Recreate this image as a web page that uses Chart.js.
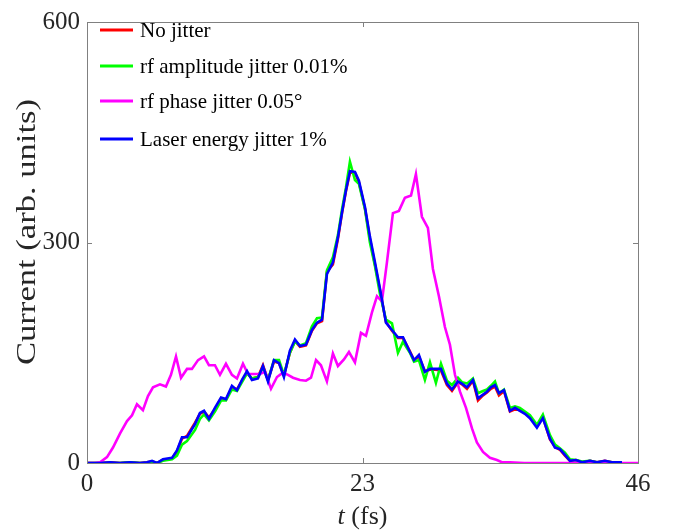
<!DOCTYPE html>
<html lang="en">
  <head>
    <meta charset="UTF-8" />
    <title>Current profile jitter</title>
    <script src="https://cdn.jsdelivr.net/npm/chart.js@4.4.1/dist/chart.umd.min.js"></script>
    <style>
      body { margin: 0; background: #fff; }
    </style>
  </head>
  <body>
    <canvas id="chart" width="676" height="531"></canvas>
    <script>
      // time axis (fs) shared by the no-jitter / amplitude / laser runs
      const timeMain = [
        0, 1.09, 1.92, 2.75, 3.59, 4.42, 5.0, 5.43, 5.84, 6.34,
        7.1, 7.51, 7.93, 8.35, 9.02, 9.43, 9.77, 10.18, 10.68, 11.19,
        11.6, 12.1, 12.52, 12.94, 13.36, 13.77, 14.27, 14.69, 15.11, 15.61,
        16.03, 16.44, 16.94, 17.36, 17.78, 18.28, 18.78, 19.2, 19.62, 20.03,
        20.53, 20.95, 21.29, 21.62, 21.95, 22.37, 22.7, 23.21, 23.62, 24.04,
        24.46, 24.96, 25.46, 25.96, 26.38, 26.96, 27.3, 27.71, 28.21, 28.63,
        29.13, 29.55, 30.05, 30.47, 30.97, 31.3, 31.72, 32.22, 32.64, 33.06,
        33.39, 33.72, 34.06, 34.39, 34.81, 35.31, 35.73, 36.14, 36.56, 36.98,
        37.56, 38.06, 38.65, 39.07, 39.48, 39.9, 40.32, 40.82, 41.32, 41.99,
        42.57, 43.24, 43.82, 44.66
      ];
      const noJitter = [
        0, 0, 1, 0, 1, 0, 1, 2, 0, 4,
        6, 16, 33, 37, 55, 67, 70, 62, 73, 88,
        86, 103, 100, 112, 123, 115, 117, 133, 113, 138,
        136, 119, 150, 166, 158, 160, 180, 190, 193, 260,
        270, 305, 340, 370, 395, 395, 382, 346, 305, 270,
        235, 192, 180, 170, 170, 152, 140, 145, 125, 127,
        127, 126, 106, 98, 110, 107, 101, 112, 85, 92,
        96, 101, 104, 92, 98, 70, 73, 72, 68, 62,
        50, 62, 32, 22, 18, 10, 3, 4, 1, 3,
        1, 3, 1, 1
      ];
      const ampJitter = [
        0, 0, 0, 0, 1, 0, 0, 2, 0, 3,
        5, 10, 25, 30, 45, 60, 66, 58, 70, 85,
        85, 100, 98, 110, 122, 115, 117, 130, 113, 140,
        140, 120, 150, 165, 160, 163, 186, 197, 198, 262,
        280, 310, 345, 375, 410, 385, 380, 345, 300, 268,
        230, 195, 190, 150, 165, 150, 138, 140, 113, 137,
        109, 135, 112, 106, 116, 110, 108, 115, 95, 98,
        100, 105, 111, 95, 100, 75, 77, 75, 70, 65,
        52, 66, 38, 25, 20, 14, 5, 4, 2, 3,
        1, 2, 1, 1
      ];
      const laserJitter = [
        0, 0, 1, 0, 1, 0, 1, 3, 0, 5,
        7, 17, 35, 35, 53, 68, 71, 60, 75, 89,
        87, 105, 99, 113, 125, 113, 115, 132, 111, 140,
        136, 117, 153, 168, 159, 161, 181, 191, 195, 257,
        273, 307, 341, 371, 397, 396, 384, 348, 308, 273,
        237, 191, 181, 171, 171, 151, 140, 147, 124, 128,
        128, 128, 108, 100, 111, 108, 103, 113, 88, 93,
        97, 103, 106, 95, 99, 71, 75, 71, 67, 61,
        48, 61, 33, 21, 19, 11, 3, 4, 1, 3,
        1, 3, 1, 1
      ];

      // rf phase run has its own sampling
      const timePhase = [
        0, 0.67, 1.09, 1.67, 2.17, 2.75, 3.34, 3.76, 4.17, 4.67,
        5.09, 5.51, 6.09, 6.59, 7.01, 7.43, 7.85, 8.35, 8.76, 9.27,
        9.77, 10.18, 10.68, 11.1, 11.6, 12.1, 12.52, 13.02, 13.44, 13.86,
        14.44, 14.86, 15.36, 15.86, 16.36, 16.78, 17.2, 17.78, 18.28, 18.7,
        19.12, 19.53, 20.03, 20.53, 20.95, 21.45, 21.87, 22.37, 22.87, 23.29,
        23.79, 24.21, 24.62, 25.04, 25.54, 26.04, 26.54, 27.05, 27.46, 27.96,
        28.46, 28.88, 29.38, 29.88, 30.3, 30.72, 31.14, 31.64, 32.14, 32.55,
        33.06, 33.64, 34.22, 34.64, 35.31, 36.5, 38, 40, 42, 44, 46
      ];
      const phaseJitter = [
        0, 0, 1, 8, 21, 40, 57, 65, 80, 72,
        91, 103, 107, 104, 120, 145, 116, 128, 128, 140,
        145, 133, 133, 120, 135, 120, 115, 135, 121, 121,
        121, 124, 101, 117, 123, 120, 116, 113, 112, 116,
        140, 133, 111, 149, 132, 141, 151, 137, 177, 173,
        205, 227, 220, 273, 340, 343, 361, 364, 393, 335,
        320, 264, 227, 185, 161, 120, 97, 75, 47, 28,
        15, 7, 4, 1, 1, 0, 0, 0, 0, 0, 0
      ];

      const xTicks = [0, 23, 46];
      const yTicks = [0, 300, 600];
      const seriesLabels = [
        "No jitter",
        "rf amplitude jitter 0.01%",
        "rf phase jitter 0.05°",
        "Laser energy jitter 1%",
      ];
      const seriesColors = ["#ff0000", "#00ff00", "#ff00ff", "#0000ff"];

      const serif = "'Liberation Serif', 'DejaVu Serif', serif";
      const frameColor = "#808080";
      const textColor = "#262626";

      function pts(xs, ys) {
        return xs.map((x, i) => ({ x: x, y: ys[i] }));
      }

      // frame box + inward ticks, MATLAB style, plus the axis titles
      const framePlugin = {
        id: "frame",
        afterDraw(chart) {
          const { ctx, chartArea: a, scales } = chart;
          ctx.save();
          ctx.strokeStyle = frameColor;
          ctx.lineWidth = 1;
          ctx.strokeRect(a.left + 0.5, a.top + 0.5, a.right - a.left, a.bottom - a.top);
          ctx.beginPath();
          const len = 5;
          xTicks.forEach((v) => {
            const px = Math.round(scales.x.getPixelForValue(v)) + 0.5;
            ctx.moveTo(px, a.bottom); ctx.lineTo(px, a.bottom - len);
            ctx.moveTo(px, a.top); ctx.lineTo(px, a.top + len);
          });
          yTicks.forEach((v) => {
            const py = Math.round(scales.y.getPixelForValue(v)) + 0.5;
            ctx.moveTo(a.left, py); ctx.lineTo(a.left + len, py);
            ctx.moveTo(a.right, py); ctx.lineTo(a.right - len, py);
          });
          ctx.stroke();

          ctx.fillStyle = textColor;

          // x axis title with italic t
          ctx.textBaseline = "alphabetic";
          const cx = (a.left + a.right) / 2;
          const y = 524;
          ctx.font = "italic 26px " + serif;
          const w1 = ctx.measureText("t").width;
          ctx.font = "26px " + serif;
          const rest = " (fs)";
          const w2 = ctx.measureText(rest).width;
          const x0 = cx - (w1 + w2) / 2;
          ctx.font = "italic 26px " + serif;
          ctx.textAlign = "left";
          ctx.fillText("t", x0, y);
          ctx.font = "26px " + serif;
          ctx.fillText(rest, x0 + w1, y);

          // y axis title, slightly widened like the original export
          const yt = "Current (arb. units)";
          ctx.font = "28px " + serif;
          const tw = ctx.measureText(yt).width;
          ctx.translate(28, 232);
          ctx.rotate(-Math.PI / 2);
          ctx.scale(266 / tw, 1);
          ctx.textAlign = "center";
          ctx.textBaseline = "middle";
          ctx.fillText(yt, 0, 0);
          ctx.restore();
        },
      };

      // legend drawn inside the axes, top left
      const legendPlugin = {
        id: "innerLegend",
        afterDatasetsDraw(chart) {
          const ctx = chart.ctx;
          const rows = [30, 66, 101, 139];
          ctx.save();
          ctx.font = "21px " + serif;
          ctx.textBaseline = "middle";
          ctx.textAlign = "left";
          seriesLabels.forEach((lab, i) => {
            ctx.strokeStyle = seriesColors[i];
            ctx.lineWidth = 3;
            ctx.beginPath();
            ctx.moveTo(100, rows[i]);
            ctx.lineTo(133, rows[i]);
            ctx.stroke();
            ctx.fillStyle = "#000";
            ctx.fillText(lab, 140, rows[i] + 1);
          });
          ctx.restore();
        },
      };

      const lineStyle = { borderWidth: 2.6, pointRadius: 0, tension: 0, fill: false };

      new Chart(document.getElementById("chart"), {
        type: "line",
        data: {
          datasets: [
            Object.assign({ label: seriesLabels[0], data: pts(timeMain, noJitter), borderColor: seriesColors[0], order: 4 }, lineStyle),
            Object.assign({ label: seriesLabels[1], data: pts(timeMain, ampJitter), borderColor: seriesColors[1], order: 3 }, lineStyle),
            Object.assign({ label: seriesLabels[2], data: pts(timePhase, phaseJitter), borderColor: seriesColors[2], order: 2 }, lineStyle),
            Object.assign({ label: seriesLabels[3], data: pts(timeMain, laserJitter), borderColor: seriesColors[3], order: 1 }, lineStyle),
          ],
        },
        options: {
          responsive: false,
          animation: false,
          layout: { padding: { left: 0, right: 38, top: 13, bottom: 0 } },
          plugins: { legend: { display: false }, tooltip: { enabled: false } },
          scales: {
            x: {
              type: "linear",
              min: 0,
              max: 46,
              afterBuildTicks: (s) => { s.ticks = xTicks.map((v) => ({ value: v })); },
              ticks: { color: textColor, font: { family: serif, size: 25 }, padding: 6, maxRotation: 0 },
              grid: { display: false, drawTicks: false },
              border: { display: false },
              afterFit: (s) => { s.height = 68; },
            },
            y: {
              type: "linear",
              min: 0,
              max: 600,
              afterBuildTicks: (s) => { s.ticks = yTicks.map((v) => ({ value: v })); },
              ticks: { color: textColor, font: { family: serif, size: 25 }, padding: 7 },
              grid: { display: false, drawTicks: false },
              border: { display: false },
              afterFit: (s) => { s.width = 87; },
            },
          },
        },
        plugins: [framePlugin, legendPlugin],
      });
    </script>
  </body>
</html>
